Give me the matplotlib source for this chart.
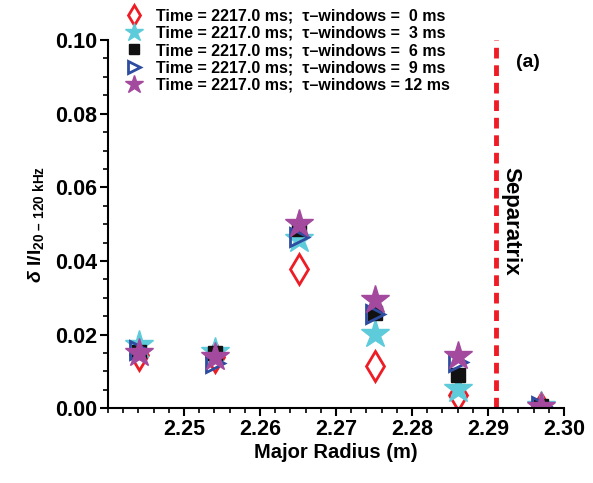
import matplotlib
matplotlib.use('Agg')
import matplotlib.pyplot as plt
from matplotlib.ticker import MultipleLocator

plt.rcParams['font.family'] = ['Liberation Sans', 'DejaVu Sans']
plt.rcParams['font.weight'] = 'bold'
plt.rcParams['mathtext.fontset'] = 'custom'
plt.rcParams['mathtext.rm'] = 'Liberation Sans'
plt.rcParams['mathtext.it'] = 'Liberation Sans:italic'
plt.rcParams['mathtext.bf'] = 'Liberation Sans:bold'

# positions radiales (m)
radius = [2.2441, 2.2541, 2.2651, 2.2751, 2.2861, 2.2970]
separatrix = 2.2911

# dI/I pour chaque fenetre tau
win_0 = [0.0145, 0.0140, 0.0378, 0.0114, 0.0036, 0.0000]
win_3 = [0.0171, 0.0153, 0.0459, 0.0201, 0.0051, 0.0005]
win_6 = [0.0153, 0.0149, 0.0486, 0.0259, 0.0090, 0.0005]
win_9 = [0.0158, 0.0122, 0.0464, 0.0255, 0.0126, 0.0005]
win_12 = [0.0149, 0.0140, 0.0500, 0.0293, 0.0142, 0.0003]

labels = ["Time = 2217.0 ms;  \u03c4\u2013windows =  0 ms",
          "Time = 2217.0 ms;  \u03c4\u2013windows =  3 ms",
          "Time = 2217.0 ms;  \u03c4\u2013windows =  6 ms",
          "Time = 2217.0 ms;  \u03c4\u2013windows =  9 ms",
          "Time = 2217.0 ms;  \u03c4\u2013windows = 12 ms"]

fig = plt.figure(figsize=(5.93, 4.83), dpi=100)
ax = fig.add_axes([0.182, 0.155, 0.769, 0.762])

ax.plot(radius, win_0, linestyle='none', marker='d', markersize=15, markerfacecolor='none',
        markeredgecolor='#ee1c25', markeredgewidth=2, label=labels[0])
ax.plot(radius, win_3, linestyle='none', marker='*', markersize=21, color='#5ecbdb', label=labels[1])
ax.plot(radius, win_6, linestyle='none', marker='s', markersize=10.5, color='#111111', label=labels[2])
ax.plot(radius, win_9, linestyle='none', marker='>', markersize=13.5, markerfacecolor='none',
        markeredgecolor='#2e4da0', markeredgewidth=2, label=labels[3])
ax.plot(radius, win_12, linestyle='none', marker='*', markersize=21, color='#a44a9e', label=labels[4])

ax.axvline(separatrix, color='#ee1c25', linewidth=3.5, linestyle=(0, (2.2, 1.4)))
ax.text(separatrix + 0.0019, 0.0655, 'Separatrix', rotation=-90, fontsize=16, fontweight='bold',
        ha='center', va='top')
ax.text(2.2953, 0.094, '(a)', fontsize=14, fontweight='bold', ha='center', va='center')

ax.set_xlim(2.24, 2.30)
ax.set_ylim(0.0, 0.10)
ax.xaxis.set_minor_locator(MultipleLocator(0.002))
ax.yaxis.set_minor_locator(MultipleLocator(0.005))
ax.set_xticks([2.25, 2.26, 2.27, 2.28, 2.29, 2.30])
ax.set_xticklabels(['2.25', '2.26', '2.27', '2.28', '2.29', '2.30'])
ax.set_yticks([0.0, 0.02, 0.04, 0.06, 0.08, 0.10])
ax.set_yticklabels(['0.00', '0.02', '0.04', '0.06', '0.08', '0.10'])
ax.tick_params(which='major', direction='out', length=6, width=1.5, labelsize=15.5, pad=2)
ax.tick_params(which='minor', direction='out', length=3.5, width=1.2)
for lab in ax.get_xticklabels() + ax.get_yticklabels():
    lab.set_fontweight('bold')

ax.spines['top'].set_visible(False)
ax.spines['right'].set_visible(False)
ax.spines['left'].set_linewidth(1.5)
ax.spines['bottom'].set_linewidth(1.5)

ax.set_xlabel('Major Radius (m)', fontsize=14.5, fontweight='bold', labelpad=2)
ax.set_ylabel('$\\delta$ I/I$_{\\mathbf{20\\ \u2013\\ 120\\ kHz}}$', fontsize=14,
              fontweight='bold', labelpad=6)

leg = ax.legend(loc='upper left', bbox_to_anchor=(0.213, 0.983), bbox_transform=fig.transFigure,
                frameon=False, fontsize=11.5, handlelength=1.0, handletextpad=0.85,
                labelspacing=0.15, borderpad=0, borderaxespad=0, markerscale=0.65)
for t in leg.get_texts():
    t.set_fontweight('bold')

fig.savefig('out.png', dpi=100)
